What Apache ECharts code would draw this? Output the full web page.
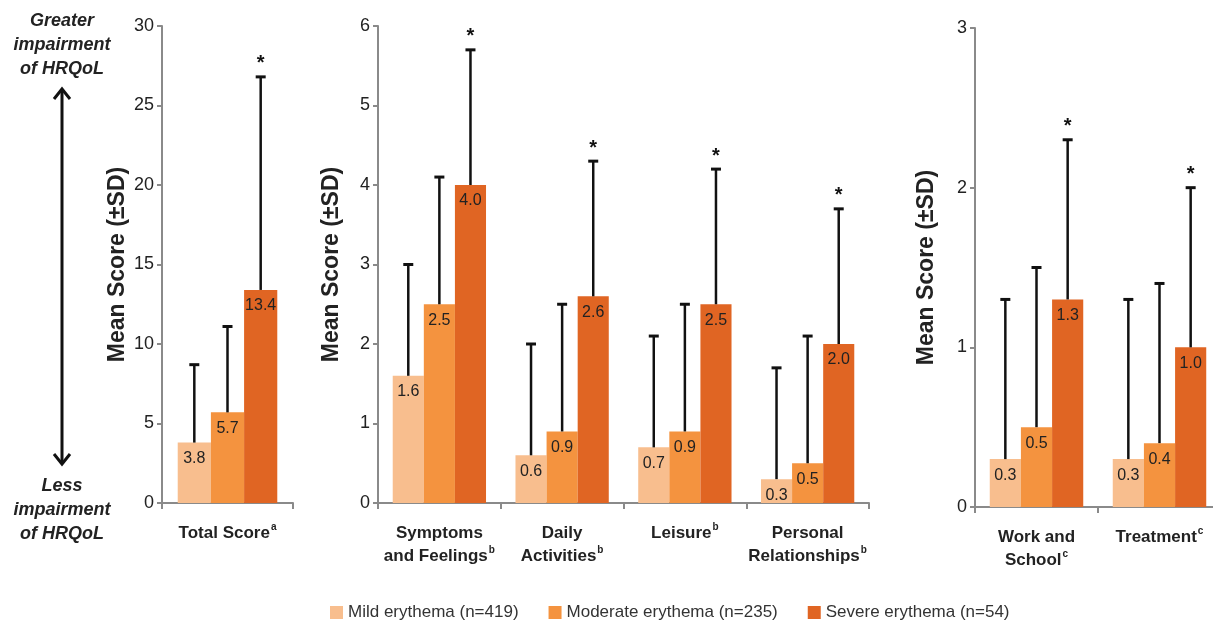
<!DOCTYPE html>
<html>
<head>
<meta charset="utf-8">
<style>
  html, body { margin: 0; padding: 0; background: #fff; }
  #chart { width: 1213px; height: 627px; }
</style>
<script src="https://cdn.jsdelivr.net/npm/echarts@6/dist/echarts.min.js"></script>
</head>
<body>
<div id="chart"></div>
<script>
// categories, in drawing order; panels take slices of them
var categories = ['Total Score', 'Symptoms\nand Feelings', 'Daily\nActivities', 'Leisure',
  'Personal\nRelationships', 'Work and\nSchool', 'Treatment']
var notes = ['a', 'b', 'b', 'b', 'b', 'c', 'c']
var panels = [[0, 1], [1, 5], [5, 7]]
var yMax = [30, 6, 3]
var yStep = [5, 1, 1]

var groups = ['Mild erythema (n=419)', 'Moderate erythema (n=235)', 'Severe erythema (n=54)']
var colors = ['#f8be8e', '#f4933f', '#e06523']

// means and top of the +SD whisker
var mildMean = [3.8, 1.6, 0.6, 0.7, 0.3, 0.3, 0.3]
var moderateMean = [5.7, 2.5, 0.9, 0.9, 0.5, 0.5, 0.4]
var severeMean = [13.4, 4.0, 2.6, 2.5, 2.0, 1.3, 1.0]
var mildUpper = [8.7, 3.0, 2.0, 2.1, 1.7, 1.3, 1.3]
var moderateUpper = [11.1, 4.1, 2.5, 2.5, 2.1, 1.5, 1.4]
var severeUpper = [26.8, 5.7, 4.3, 4.2, 3.7, 2.3, 2.0]

var means = [mildMean, moderateMean, severeMean]
var uppers = [mildUpper, moderateUpper, severeUpper]

var gridBoxes = [
  { left: 162, top: 26, width: 131, height: 477 },
  { left: 378, top: 26, width: 491, height: 477 },
  { left: 975, top: 28, width: 246, height: 479 }
]
var nameGaps = [33, 35, 37]
var catGap = 0.24
var font = 'Liberation Sans, Arial, sans-serif'

function renderError (params, api) {
  var cat = api.value(0)
  var k = api.value(1)
  var mean = api.value(2)
  var up = api.value(3)
  var band = api.size([1, 0])[0]
  var bw = band * (1 - catGap) / 3
  var base = api.coord([cat, mean])
  var x = base[0] + (k - 1) * bw
  var top = api.coord([cat, up])[1]
  var kids = [
    { type: 'line', shape: { x1: x, y1: base[1], x2: x, y2: top }, style: { stroke: '#111', lineWidth: 2.5 } },
    { type: 'line', shape: { x1: x - 5, y1: top, x2: x + 5, y2: top }, style: { stroke: '#111', lineWidth: 3 } }
  ]
  if (k === 2) {
    kids.push({
      type: 'text',
      style: { text: '*', x: x, y: top - 3, align: 'center', verticalAlign: 'bottom', font: 'bold 20px ' + font, fill: '#111' }
    })
  }
  return { type: 'group', children: kids }
}

var grid = []
var xAxis = []
var yAxis = []
var series = []

panels.forEach(function (p, i) {
  var cats = categories.slice(p[0], p[1])
  var sups = notes.slice(p[0], p[1])
  grid.push(Object.assign({ containLabel: false, outerBoundsMode: 'none' }, gridBoxes[i]))
  xAxis.push({
    type: 'category',
    gridIndex: i,
    data: cats,
    axisLine: { lineStyle: { color: '#8a8a8a', width: 2 } },
    axisTick: { show: true, length: 6, alignWithLabel: false, lineStyle: { color: '#8a8a8a', width: 2 } },
    axisLabel: {
      interval: 0,
      margin: 19,
      color: '#222',
      fontFamily: font,
      fontSize: 17,
      fontWeight: 'bold',
      lineHeight: 23,
      formatter: function (v, idx) {
        return v + '{sup|' + sups[idx] + '}'
      },
      rich: {
        sup: { fontSize: 10, fontWeight: 'bold', color: '#222', fontFamily: font, verticalAlign: 'top', lineHeight: 23, padding: [0, 0, 8, 1] }
      }
    }
  })
  yAxis.push({
    type: 'value',
    gridIndex: i,
    min: 0,
    max: yMax[i],
    interval: yStep[i],
    name: 'Mean Score (±SD)',
    nameLocation: 'middle',
    nameGap: nameGaps[i],
    nameTextStyle: { color: '#222', fontFamily: font, fontSize: 23, fontWeight: 'bold' },
    splitLine: { show: false },
    axisLine: { show: true, lineStyle: { color: '#8a8a8a', width: 2 } },
    axisTick: { show: true, length: 5, lineStyle: { color: '#8a8a8a', width: 2 } },
    axisLabel: { color: '#222', fontFamily: font, fontSize: 18, margin: 8 }
  })
  groups.forEach(function (g, k) {
    series.push({
      name: g,
      type: 'bar',
      xAxisIndex: i,
      yAxisIndex: i,
      barGap: '0%',
      barCategoryGap: (catGap * 100) + '%',
      itemStyle: { color: colors[k] },
      label: {
        show: true,
        position: 'insideTop',
        distance: 8,
        color: '#222',
        fontFamily: font,
        fontSize: 16,
        formatter: function (d) { return d.value.toFixed(1) }
      },
      data: means[k].slice(p[0], p[1])
    })
  })
  var errData = []
  cats.forEach(function (c, j) {
    for (var k = 0; k < 3; k++) {
      errData.push([j, k, means[k][p[0] + j], uppers[k][p[0] + j]])
    }
  })
  series.push({
    type: 'custom',
    xAxisIndex: i,
    yAxisIndex: i,
    renderItem: renderError,
    encode: { x: 0, y: 3 },
    data: errData,
    z: 5,
    silent: true
  })
})

var chart = echarts.init(document.getElementById('chart'))
chart.setOption({
  animation: false,
  backgroundColor: '#fff',
  grid: grid,
  xAxis: xAxis,
  yAxis: yAxis,
  legend: {
    data: groups,
    left: 325,
    top: 599,
    icon: 'rect',
    itemWidth: 13,
    itemHeight: 13,
    itemGap: 30,
    textStyle: { color: '#333', fontFamily: font, fontSize: 17 }
  },
  graphic: [
    { type: 'text', style: { text: 'Greater\nimpairment\nof HRQoL', x: 62, y: 9, align: 'center', font: 'italic bold 18px ' + font, lineHeight: 24, fill: '#222' } },
    { type: 'text', style: { text: 'Less\nimpairment\nof HRQoL', x: 62, y: 474, align: 'center', font: 'italic bold 18px ' + font, lineHeight: 24, fill: '#222' } },
    { type: 'line', shape: { x1: 62, y1: 89, x2: 62, y2: 464 }, style: { stroke: '#111', lineWidth: 3 } },
    { type: 'polyline', shape: { points: [[54, 99], [62, 89], [70, 99]] }, style: { stroke: '#111', lineWidth: 3, fill: null } },
    { type: 'polyline', shape: { points: [[54, 454], [62, 464], [70, 454]] }, style: { stroke: '#111', lineWidth: 3, fill: null } }
  ],
  series: series
})
</script>
</body>
</html>
